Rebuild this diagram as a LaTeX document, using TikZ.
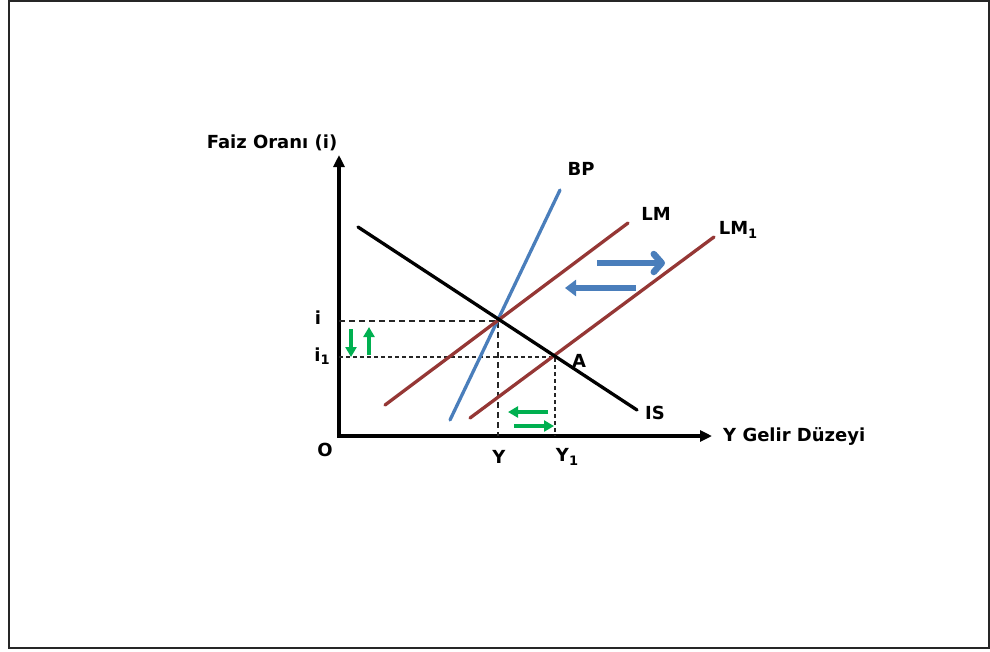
\documentclass[tikz,border=0pt]{standalone}
\usepackage{fontspec}
\setmainfont{DejaVu Sans}
\usetikzlibrary{arrows.meta}
\definecolor{bpblue}{HTML}{4A7EBB}
\definecolor{lmred}{HTML}{953735}
\definecolor{shgreen}{HTML}{00B050}
\newcommand{\lsub}[1]{\raisebox{-0.35ex}{\fontsize{13}{14}\selectfont #1}}
\begin{document}
\begin{tikzpicture}[x=1pt,y=-1pt,
  lbl/.style={font=\fontsize{18}{21}\selectfont\bfseries, inner sep=1pt},
  axis/.style={line width=3.8pt, -{Triangle[length=12pt,width=11pt]}},
  curve/.style={line width=3.3pt, line cap=round},
  guide/.style={line width=1.2pt, black!85, dash pattern=on 6pt off 4pt},
  shiftblue/.style={line width=6.5pt, bpblue},
  shiftgreen/.style={line width=3.5pt, shgreen, -{Triangle[length=10pt,width=11pt]}}]
\useasboundingbox (0,0) rectangle (990,651);
\draw[line width=2pt, black!85] (9,1) rectangle (989,648);
% axes
\coordinate (O) at (339,436);
\coordinate (ytop) at (339,155);
\coordinate (xend) at (712,436);
\draw[axis] (339,437.9) -- (ytop);
\draw[axis] (337.1,436) -- (xend);
\node[lbl] (ylab) at (272,143) {Faiz Oranı (i)};
\node[lbl, anchor=west] (xlab) at (722,436) {Y Gelir Düzeyi};
\node[lbl] (olab) at (325,450) {O};
% curves
\coordinate (is1) at (358,227); \coordinate (is2) at (637,410);
\coordinate (bp1) at (450,420); \coordinate (bp2) at (560,190);
\coordinate (lm1) at (385,405); \coordinate (lm2) at (628,223);
\coordinate (lmb1) at (470,418); \coordinate (lmb2) at (714,237);
\coordinate (E) at (498,321);
\coordinate (A) at (555,357);
% guides
\coordinate (ei) at (339,321); \coordinate (ey) at (498,436);
\coordinate (ai) at (339,357); \coordinate (ay) at (555,436);
\draw[guide] (ei) -- (E) -- (ey);
\draw[guide, dash pattern=on 4pt off 3pt] (ai) -- (A) -- (ay);
\draw[curve, bpblue] (bp1) -- (bp2);
\draw[curve, lmred] (lm1) -- (lm2);
\draw[curve, lmred] (lmb1) -- (lmb2);
\draw[curve, black] (is1) -- (is2);
% labels
\node[lbl] (ilab) at (318,318) {i};
\node[lbl] (i1lab) at (322,356) {i\lsub{1}};
\node[lbl] (ylab1) at (499,457) {Y};
\node[lbl] (y1lab) at (567,457) {Y\lsub{1}};
\node[lbl] (alab) at (579,361) {A};
\node[lbl] (islab) at (655,413) {IS};
\node[lbl] (bplab) at (581,169) {BP};
\node[lbl] (lmlab) at (656,214) {LM};
\node[lbl] (lm1lab) at (738,230) {LM\lsub{1}};
% blue shift arrows
\coordinate (br1) at (597,263); \coordinate (br2) at (665,263);
\coordinate (bl1) at (636,288); \coordinate (bl2) at (565,288);
\draw[shiftblue, -{Straight Barb[length=8pt,width=18pt,round]}] (br1) -- (br2);
\draw[shiftblue, -{Triangle[length=11pt,width=16pt]}] (bl1) -- (bl2);
% green arrows
\coordinate (gd1) at (351,329); \coordinate (gd2) at (351,357);
\coordinate (gu1) at (369,355); \coordinate (gu2) at (369,327);
\coordinate (gl1) at (548,412); \coordinate (gl2) at (508,412);
\coordinate (gr1) at (514,426); \coordinate (gr2) at (554,426);
\draw[shiftgreen] (gd1) -- (gd2);
\draw[shiftgreen] (gu1) -- (gu2);
\draw[shiftgreen] (gl1) -- (gl2);
\draw[shiftgreen] (gr1) -- (gr2);
\end{tikzpicture}
\end{document}
